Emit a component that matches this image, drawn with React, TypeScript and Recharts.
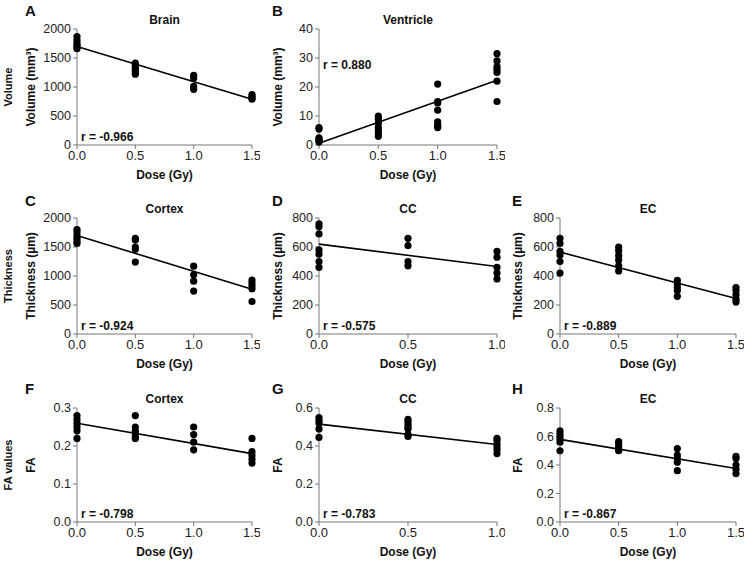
import React from "react";
import { ScatterChart, Scatter, XAxis, YAxis } from "recharts";

// ---------- data ----------
const doses15 = [0, 0.5, 1.0, 1.5];
const doses10 = [0, 0.5, 1.0];
const doseTicks15 = [0, 0.5, 1.0, 1.5];
const doseTicks10 = [0, 0.5, 1.0];

const brainVolume = [
  [1870, 1810, 1760, 1720, 1690, 1660],
  [1410, 1380, 1340, 1310, 1280, 1250, 1220],
  [1200, 1150, 1010, 960],
  [870, 840, 810, 790],
];
const brainFit = [1700, 790];

const ventricleVolume = [
  [6, 5.5, 2.5, 2, 1.5, 1],
  [10, 9, 7.5, 6, 5, 4, 3],
  [21, 15, 14.5, 12, 8, 7, 6.5, 6],
  [31.5, 29, 27, 26, 25, 22, 15],
];
const ventricleFit = [0.6, 22.3];

const cortexThickness = [
  [1800, 1760, 1700, 1650, 1600, 1560],
  [1650, 1620, 1500, 1460, 1240],
  [1170, 1020, 910, 740],
  [930, 880, 830, 780, 560],
];
const cortexThicknessFit = [1700, 770];

const ccThickness = [
  [760, 740, 690, 580, 550, 500, 460],
  [660, 610, 500, 470],
  [570, 530, 460, 420, 380],
];
const ccThicknessFit = [620, 465];

const ecThickness = [
  [660, 625, 570, 545, 500, 420],
  [600, 575, 540, 510, 470, 435],
  [370, 345, 320, 300, 260],
  [320, 300, 270, 240, 220],
];
const ecThicknessFit = [565, 245];

const cortexFA = [
  [0.28, 0.27, 0.26, 0.25, 0.24, 0.22],
  [0.28, 0.25, 0.24, 0.235, 0.225, 0.22],
  [0.25, 0.23, 0.21, 0.19],
  [0.22, 0.185, 0.175, 0.165, 0.155],
];
const cortexFAFit = [0.26, 0.18];

const ccFA = [
  [0.55, 0.535, 0.52, 0.49, 0.445],
  [0.54, 0.53, 0.515, 0.5, 0.49, 0.46, 0.45],
  [0.44, 0.43, 0.41, 0.395, 0.38, 0.36],
];
const ccFAFit = [0.515, 0.408];

const ecFA = [
  [0.64, 0.62, 0.6, 0.58, 0.56, 0.5],
  [0.565, 0.55, 0.53, 0.51, 0.5],
  [0.515, 0.47, 0.445, 0.42, 0.36],
  [0.46, 0.445, 0.4, 0.37, 0.34],
];
const ecFAFit = [0.58, 0.375];

const volumeTicks = [0, 500, 1000, 1500, 2000];
const ventricleTicks = [0, 10, 20, 30, 40];
const thicknessTicks = [0, 200, 400, 600, 800];
const cortexFATicks = [0, 0.1, 0.2, 0.3];
const ccFATicks = [0, 0.2, 0.4, 0.6];
const ecFATicks = [0, 0.2, 0.4, 0.6, 0.8];

const rValues = ["-0.966", "0.880", "-0.924", "-0.575", "-0.889", "-0.798", "-0.783", "-0.867"];

// ---------- layout ----------
const COLS = [
  { axisX: 77, right: 252, innerX: 31, letterX: 25 },
  { axisX: 319, right: 497, innerX: 278, letterX: 272 },
  { axisX: 560, right: 736, innerX: 518, letterX: 512 },
];
const ROWS = [
  { top: 29, bottom: 145, letterY: 10, outer: "Volume" },
  { top: 218, bottom: 334, letterY: 200, outer: "Thickness" },
  { top: 408, bottom: 522, letterY: 388, outer: "FA values" },
];

type PanelCfg = {
  letter: string;
  title: string;
  col: number;
  row: number;
  doses: number[];
  xTicks: number[];
  values: number[][];
  fit: number[];
  yTicks: number[];
  yLabel: string;
  decimals: boolean;
  r: string;
  rTop?: boolean;
};

const panels: PanelCfg[] = [
  { letter: "A", title: "Brain", col: 0, row: 0, doses: doses15, xTicks: doseTicks15, values: brainVolume, fit: brainFit, yTicks: volumeTicks, yLabel: "Volume (mm³)", decimals: false, r: rValues[0] },
  { letter: "B", title: "Ventricle", col: 1, row: 0, doses: doses15, xTicks: doseTicks15, values: ventricleVolume, fit: ventricleFit, yTicks: ventricleTicks, yLabel: "Volume (mm³)", decimals: false, r: rValues[1], rTop: true },
  { letter: "C", title: "Cortex", col: 0, row: 1, doses: doses15, xTicks: doseTicks15, values: cortexThickness, fit: cortexThicknessFit, yTicks: volumeTicks, yLabel: "Thickness (µm)", decimals: false, r: rValues[2] },
  { letter: "D", title: "CC", col: 1, row: 1, doses: doses10, xTicks: doseTicks10, values: ccThickness, fit: ccThicknessFit, yTicks: thicknessTicks, yLabel: "Thickness (µm)", decimals: false, r: rValues[3] },
  { letter: "E", title: "EC", col: 2, row: 1, doses: doses15, xTicks: doseTicks15, values: ecThickness, fit: ecThicknessFit, yTicks: thicknessTicks, yLabel: "Thickness (µm)", decimals: false, r: rValues[4] },
  { letter: "F", title: "Cortex", col: 0, row: 2, doses: doses15, xTicks: doseTicks15, values: cortexFA, fit: cortexFAFit, yTicks: cortexFATicks, yLabel: "FA", decimals: true, r: rValues[5] },
  { letter: "G", title: "CC", col: 1, row: 2, doses: doses10, xTicks: doseTicks10, values: ccFA, fit: ccFAFit, yTicks: ccFATicks, yLabel: "FA", decimals: true, r: rValues[6] },
  { letter: "H", title: "EC", col: 2, row: 2, doses: doses15, xTicks: doseTicks15, values: ecFA, fit: ecFAFit, yTicks: ecFATicks, yLabel: "FA", decimals: true, r: rValues[7] },
];

const FONT = "'Liberation Sans', Arial, Helvetica, sans-serif";
const Y_W = 50;
const M_T = 10;
const M_R = 8;
const X_H = 40;

const Dot = (props: any) => <circle cx={props.cx} cy={props.cy} r={3.6} fill="#000" />;
const Empty = () => <g />;

function Panel({ cfg }: { cfg: PanelCfg }) {
  const col = COLS[cfg.col];
  const row = ROWS[cfg.row];
  const xMax = cfg.xTicks[cfg.xTicks.length - 1];
  const yMax = cfg.yTicks[cfg.yTicks.length - 1];
  const left = col.axisX - Y_W;
  const width = col.right + M_R - left;
  const height = row.bottom - row.top + M_T + X_H;
  const points: { x: number; y: number }[] = [];
  cfg.values.forEach((group, i) => group.forEach((v) => points.push({ x: cfg.doses[i], y: v })));
  const fitData = [
    { x: 0, y: cfg.fit[0] },
    { x: xMax, y: cfg.fit[1] },
  ];
  return (
    <div style={{ position: "absolute", left, top: row.top - M_T }}>
      <ScatterChart width={width} height={height} margin={{ top: M_T, right: M_R, bottom: 0, left: 0 }}>
        <XAxis
          type="number"
          dataKey="x"
          domain={[0, xMax]}
          ticks={cfg.xTicks}
          interval={0}
          tickFormatter={(v: number) => v.toFixed(1)}
          stroke="#777"
          tick={{ fill: "#222", fontSize: 13, fontFamily: FONT }}
          tickSize={4}
          tickMargin={2}
          height={X_H}
        />
        <YAxis
          type="number"
          dataKey="y"
          domain={[0, yMax]}
          ticks={cfg.yTicks}
          interval={0}
          tickFormatter={(v: number) => (cfg.decimals ? v.toFixed(1) : String(v))}
          stroke="#777"
          tick={{ fill: "#222", fontSize: 12.5, fontFamily: FONT }}
          tickSize={4}
          tickMargin={2}
          width={Y_W}
        />
        <Scatter data={points} shape={Dot} isAnimationActive={false} />
        <Scatter
          data={fitData}
          line={{ stroke: "#000", strokeWidth: 1.6 }}
          lineType="joint"
          shape={Empty}
          isAnimationActive={false}
        />
      </ScatterChart>
    </div>
  );
}

function Labels() {
  return (
    <svg
      width={747}
      height={564}
      style={{ position: "absolute", left: 0, top: 0, pointerEvents: "none" }}
      fontFamily={FONT}
      fontWeight="bold"
      fill="#111"
    >
      {ROWS.map((row, i) => (
        <text
          key={"o" + i}
          x={8}
          y={(row.top + row.bottom) / 2}
          fontSize={11}
          textAnchor="middle"
          dominantBaseline="central"
          transform={`rotate(-90, 8, ${(row.top + row.bottom) / 2})`}
        >
          {row.outer}
        </text>
      ))}
      {panels.map((p) => {
        const col = COLS[p.col];
        const row = ROWS[p.row];
        const cx = (col.axisX + col.right) / 2;
        const cy = (row.top + row.bottom) / 2;
        const rY = p.rTop ? row.top + 40 : row.bottom - 4;
        return (
          <g key={p.letter}>
            <text x={col.letterX} y={row.letterY + 5.5} fontSize={15}>
              {p.letter}
            </text>
            <text x={cx} y={row.top - 9} fontSize={12} textAnchor="middle" dominantBaseline="central">
              {p.title}
            </text>
            <text x={cx} y={row.bottom + 30} fontSize={12} textAnchor="middle" dominantBaseline="central">
              Dose (Gy)
            </text>
            <text
              x={col.innerX}
              y={cy}
              fontSize={12}
              textAnchor="middle"
              dominantBaseline="central"
              transform={`rotate(-90, ${col.innerX}, ${cy})`}
            >
              {p.yLabel}
            </text>
            <text x={col.axisX + 4} y={rY} fontSize={12}>
              {"r = " + p.r}
            </text>
          </g>
        );
      })}
    </svg>
  );
}

export default function App() {
  return (
    <div
      style={{
        position: "absolute",
        left: 0,
        top: 0,
        width: 747,
        height: 564,
        background: "#fff",
        overflow: "hidden",
        fontFamily: FONT,
      }}
    >
      {panels.map((p) => (
        <Panel key={p.letter} cfg={p} />
      ))}
      <Labels />
    </div>
  );
}
